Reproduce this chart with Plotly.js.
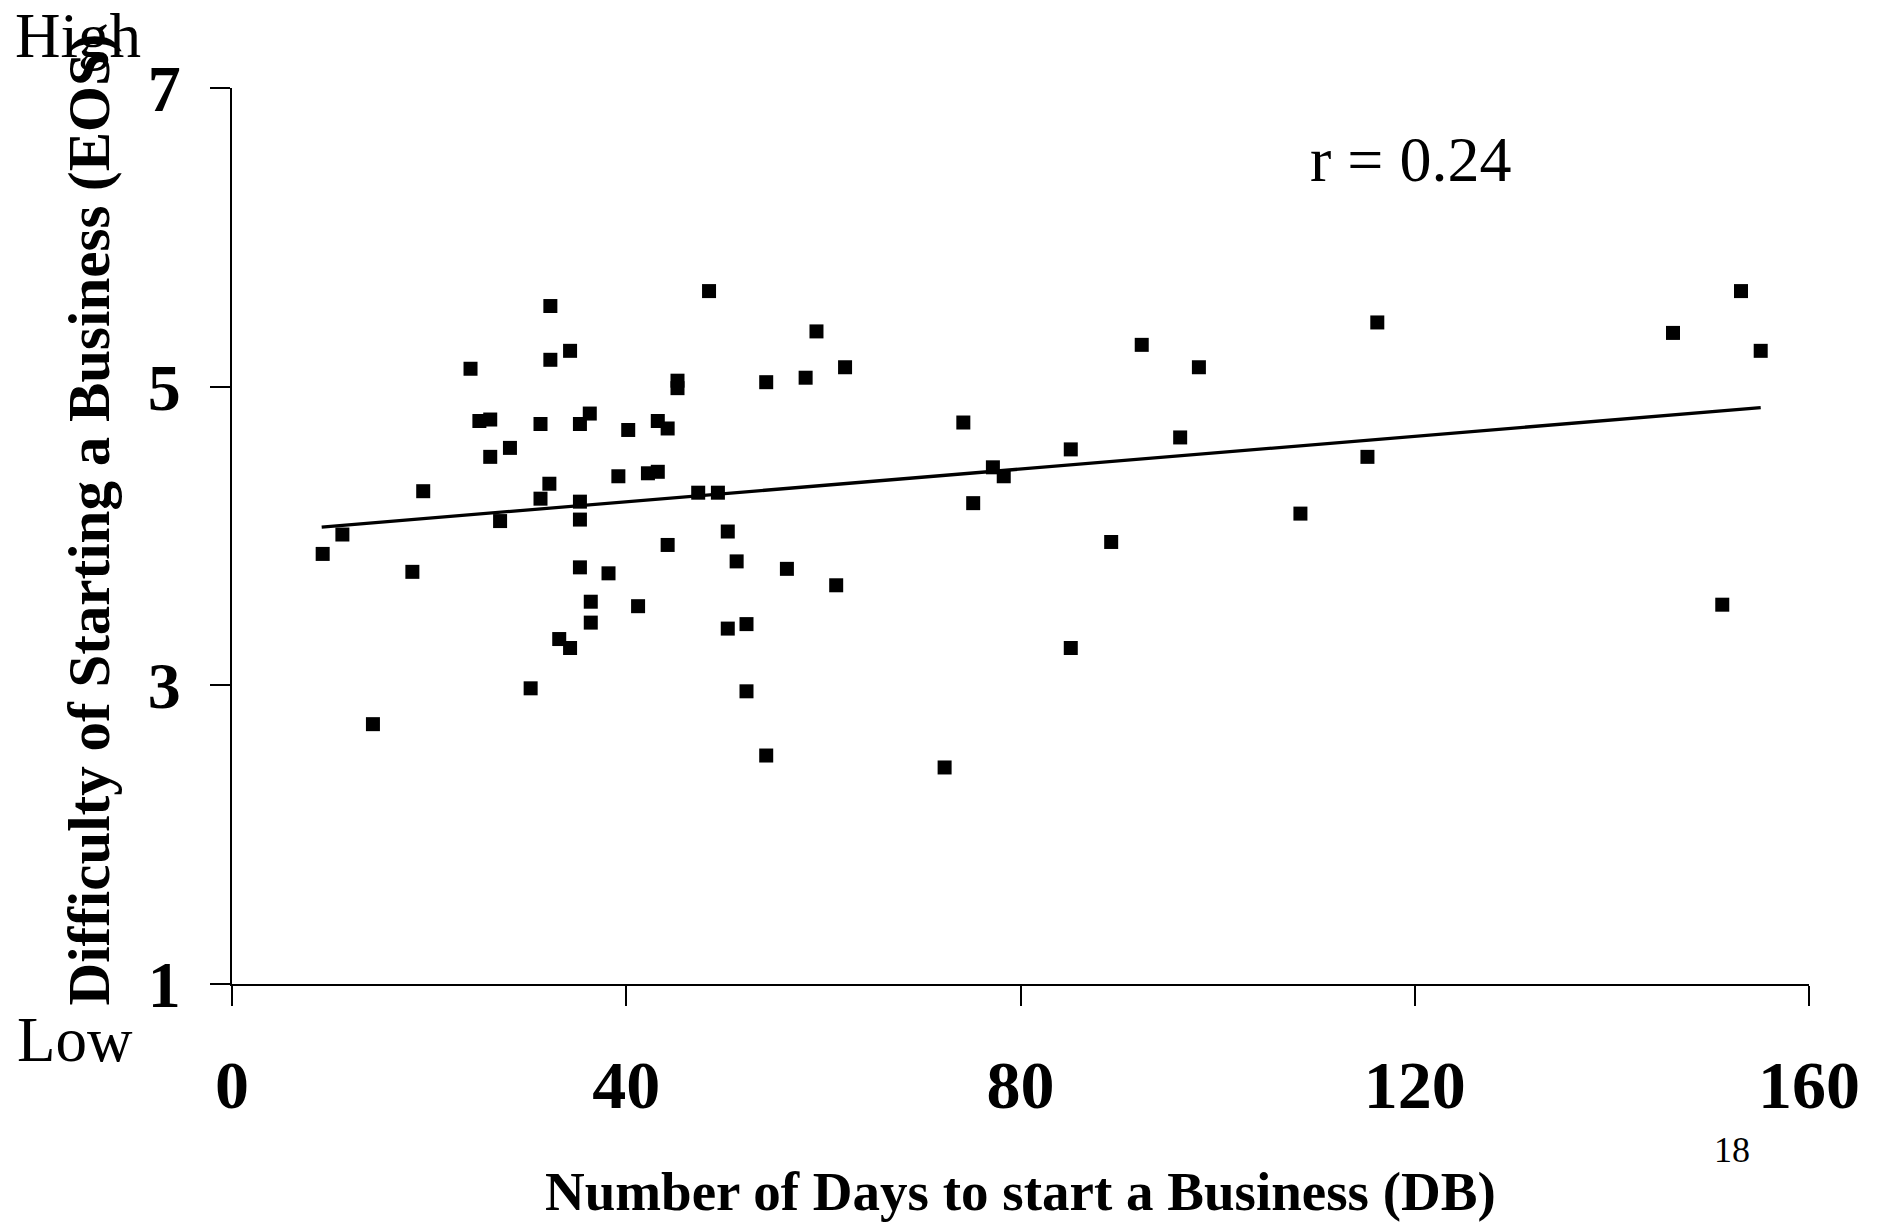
<!DOCTYPE html>
<html>
<head>
<meta charset="utf-8">
<script src="https://cdn.plot.ly/plotly-3.0.1.min.js"></script>
<style>
  html, body { margin: 0; padding: 0; background: #ffffff; }
  #chart { width: 1883px; height: 1224px; }
</style>
</head>
<body>
<div id="chart"></div>
<script>
// Number of Days to start a Business (DB)
const days = [32.3, 48.4, 34.3, 32.3, 24.2, 45.2, 45.2, 54.2, 25.1, 26.2,
              31.3, 35.3, 36.3, 40.2, 43.2, 44.2, 28.2, 26.2, 19.4, 32.2,
              31.3, 35.3, 39.2, 42.2, 43.2, 47.3, 49.3, 27.2, 35.3, 11.2,
              9.2, 18.3, 35.3, 38.2, 44.2, 50.3, 51.2, 36.4, 41.2, 36.4,
              33.2, 34.3, 50.3, 52.2, 30.3, 52.2, 14.3, 54.2, 59.3, 58.2,
              62.2, 74.2, 92.3, 98.1, 96.2, 85.1, 77.2, 78.3, 75.2, 56.3,
              61.3, 89.2, 85.1, 72.3, 153.1, 116.2, 146.2, 155.1, 115.2, 108.4,
              151.2];
// Difficulty of Starting a Business (EOS)
const eos = [5.54, 5.64, 5.24, 5.18, 5.12, 5.04, 4.99, 5.03, 4.77, 4.78,
             4.75, 4.75, 4.82, 4.71, 4.77, 4.72, 4.59, 4.53, 4.30, 4.35,
             4.25, 4.23, 4.40, 4.42, 4.43, 4.29, 4.29, 4.10, 4.11, 4.01,
             3.88, 3.76, 3.79, 3.75, 3.94, 4.03, 3.83, 3.56, 3.53, 3.42,
             3.31, 3.25, 3.38, 3.41, 2.98, 2.96, 2.74, 2.53, 5.37, 5.06,
             5.13, 4.76, 5.28, 5.13, 4.66, 4.58, 4.46, 4.40, 4.22, 3.78,
             3.67, 3.96, 3.25, 2.45, 5.64, 5.43, 5.36, 5.24, 4.53, 4.15,
             3.54];
// Linear trend line end points
const trendDays = [9.1, 155.1];
const trendEos = [4.06, 4.86];

const xTicks = [0, 40, 80, 120, 160];
const xTickLabels = ['0', '40', '80', '120', '160'];
const yTicks = [1, 3, 5, 7];
const yTickLabels = ['1', '3', '5', '7'];

const xTitle = 'Number of Days to start a Business (DB)';
const yTitle = 'Difficulty of Starting a Business (EOS)';
const corrLabel = 'r = 0.24';
const highLabel = 'High';
const lowLabel = 'Low';
const pageNumber = '18';

const SERIF = 'Liberation Serif, Times New Roman, serif';

const traces = [
  {
    x: trendDays, y: trendEos, type: 'scatter', mode: 'lines',
    line: {color: '#000000', width: 3.3}, hoverinfo: 'skip'
  },
  {
    x: days, y: eos, type: 'scatter', mode: 'markers',
    marker: {symbol: 'square', size: 14, color: '#000000', line: {width: 0}}
  }
];

const layout = {
  width: 1883, height: 1224,
  margin: {l: 232, r: 74, t: 88, b: 240, pad: 0},
  paper_bgcolor: '#ffffff', plot_bgcolor: '#ffffff',
  showlegend: false,
  font: {family: SERIF, color: '#000000'},
  xaxis: {
    range: [0, 160], tickmode: 'array', tickvals: xTicks, ticktext: xTickLabels,
    ticks: 'outside', ticklen: 20, tickwidth: 2, tickcolor: '#000000',
    showline: true, linewidth: 2, linecolor: '#000000',
    showgrid: false, zeroline: false, fixedrange: true,
    ticklabelstandoff: 20,
    tickfont: {family: SERIF, size: 68, color: '#000000', weight: 'bold'}
  },
  yaxis: {
    range: [1, 7], tickmode: 'array', tickvals: yTicks, ticktext: yTickLabels,
    ticks: 'outside', ticklen: 20, tickwidth: 2, tickcolor: '#000000',
    showline: true, linewidth: 2, linecolor: '#000000',
    showgrid: false, zeroline: false, fixedrange: true,
    ticklabelstandoff: 16,
    tickfont: {family: SERIF, size: 66, color: '#000000', weight: 'bold'}
  },
  annotations: [
    {text: corrLabel, xref: 'paper', yref: 'paper', x: 0.7474, y: 0.92,
     xanchor: 'center', yanchor: 'middle', showarrow: false,
     font: {family: SERIF, size: 64, color: '#000000'}},
    {text: highLabel, xref: 'paper', yref: 'paper', x: -0.1388, y: 1.058,
     xanchor: 'left', yanchor: 'middle', showarrow: false,
     font: {family: SERIF, size: 63, color: '#000000'}},
    {text: lowLabel, xref: 'paper', yref: 'paper', x: -0.1376, y: -0.062,
     xanchor: 'left', yanchor: 'middle', showarrow: false,
     font: {family: SERIF, size: 63, color: '#000000'}},
    {text: pageNumber, xref: 'paper', yref: 'paper', x: 0.951, y: -0.185,
     xanchor: 'center', yanchor: 'middle', showarrow: false,
     font: {family: SERIF, size: 36, color: '#000000'}},
    {text: xTitle, xref: 'paper', yref: 'paper', x: 0.5, y: -0.232,
     xanchor: 'center', yanchor: 'middle', showarrow: false,
     font: {family: SERIF, size: 55, color: '#000000', weight: 'bold'}},
    {text: yTitle, xref: 'paper', yref: 'paper', x: -0.091, y: 0.519,
     xanchor: 'center', yanchor: 'middle', showarrow: false, textangle: -90,
     font: {family: SERIF, size: 59, color: '#000000', weight: 'bold'}}
  ]
};

Plotly.newPlot('chart', traces, layout, {displayModeBar: false, staticPlot: true});
</script>
</body>
</html>
